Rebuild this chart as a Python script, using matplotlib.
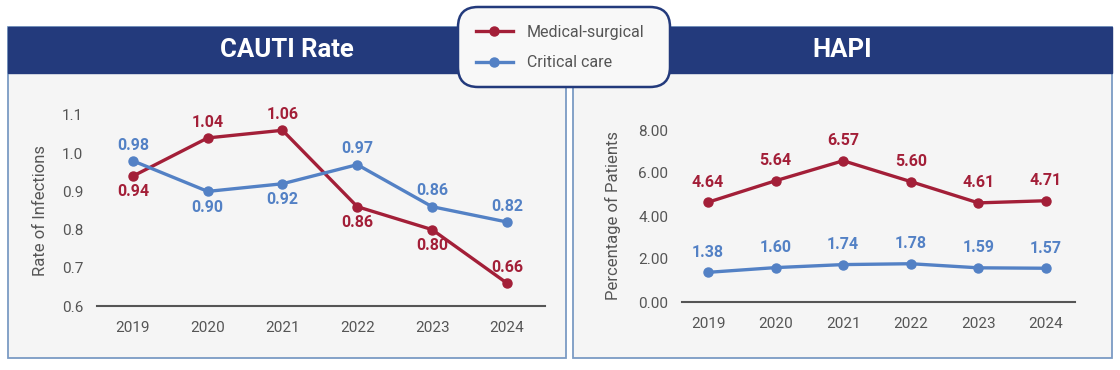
import matplotlib
matplotlib.use("Agg")
import matplotlib.pyplot as plt
from matplotlib.patches import Rectangle, FancyBboxPatch
from matplotlib.lines import Line2D

plt.rcParams['font.family'] = ['Roboto', 'DejaVu Sans']

years = [2019, 2020, 2021, 2022, 2023, 2024]
cauti_med = [0.94, 1.04, 1.06, 0.86, 0.80, 0.66]
cauti_crit = [0.98, 0.90, 0.92, 0.97, 0.86, 0.82]
hapi_med = [4.64, 5.64, 6.57, 5.60, 4.61, 4.71]
hapi_crit = [1.38, 1.60, 1.74, 1.78, 1.59, 1.57]
# label placement: 1 above the point, -1 below
cauti_med_pos = [-1, 1, 1, -1, -1, 1]
cauti_crit_pos = [1, -1, -1, 1, 1, 1]

RED = '#a31f38'
BLUE = '#5381c5'
NAVY = '#233a7c'
GRAY = '#555555'

W, H = 1120, 370
fig = plt.figure(figsize=(W / 100, H / 100), dpi=100)


def px(x0, y0, x1, y1):
    # pixel box (top-left origin) to figure fraction rect
    return [x0 / W, 1 - y1 / H, (x1 - x0) / W, (y1 - y0) / H]


# background layer in pixel coordinates
bg = fig.add_axes([0, 0, 1, 1], zorder=0)
bg.set_xlim(0, W)
bg.set_ylim(H, 0)
bg.axis('off')


def panel(x0, x1, title):
    bg.add_patch(Rectangle((x0, 27), x1 - x0, 331, facecolor='#f5f5f5',
                           edgecolor='#7b9bc4', lw=1.3))
    bg.add_patch(Rectangle((x0, 27), x1 - x0, 46, facecolor=NAVY, edgecolor=NAVY, lw=1))
    bg.text((x0 + x1) / 2, 50, title, color='white', fontsize=18.5,
            fontweight='bold', ha='center', va='center')


panel(8, 566, 'CAUTI Rate')
panel(573, 1112, 'HAPI')


def setup(ax, ylabel, lpad):
    ax.patch.set_alpha(0)
    for s in ['top', 'right', 'left']:
        ax.spines[s].set_visible(False)
    ax.spines['bottom'].set_color(GRAY)
    ax.spines['bottom'].set_linewidth(1.5)
    ax.tick_params(length=0, labelsize=11, labelcolor=GRAY)
    ax.tick_params(axis='x', pad=11)
    ax.tick_params(axis='y', pad=10)
    ax.set_xticks(years)
    ax.set_ylabel(ylabel, fontsize=12, color=GRAY, labelpad=lpad)


def series(ax, vals, color, pos, off):
    ax.plot(years, vals, color=color, lw=2.4, marker='o', ms=6.5, clip_on=False, zorder=3)
    for x, v, p in zip(years, vals, pos):
        ax.annotate(f'{v:.2f}', (x, v), xytext=(0, off * p), textcoords='offset points',
                    ha='center', va='bottom' if p > 0 else 'top', color=color,
                    fontsize=11.5, fontweight='bold', zorder=4)


ax1 = fig.add_axes(px(97, 115, 545, 306), zorder=2)
setup(ax1, 'Rate of Infections', 10)
ax1.set_xlim(2018.52, 2024.51)
ax1.set_ylim(0.6, 1.1)
ax1.set_yticks([0.6, 0.7, 0.8, 0.9, 1.0, 1.1])
ax1.set_yticklabels([f'{t:.1f}' for t in [0.6, 0.7, 0.8, 0.9, 1.0, 1.1]])
series(ax1, cauti_med, RED, cauti_med_pos, 6)
series(ax1, cauti_crit, BLUE, cauti_crit_pos, 6)

ax2 = fig.add_axes(px(682, 130, 1075, 302), zorder=2)
setup(ax2, 'Percentage of Patients', 12)
ax2.set_xlim(2018.615, 2024.43)
ax2.set_ylim(0, 8)
ax2.set_yticks([0, 2, 4, 6, 8])
ax2.set_yticklabels([f'{t:.2f}' for t in [0, 2, 4, 6, 8]])
series(ax2, hapi_med, RED, [1] * 6, 9)
series(ax2, hapi_crit, BLUE, [1] * 6, 9)

# legend box on top layer
top = fig.add_axes([0, 0, 1, 1], zorder=5)
top.set_xlim(0, W)
top.set_ylim(H, 0)
top.axis('off')
top.add_patch(FancyBboxPatch((458, 7), 212, 80, boxstyle='round,pad=0,rounding_size=20',
                             facecolor='#f8f8f8', edgecolor=NAVY, lw=1.8))
handles = [Line2D([], [], color=RED, lw=2.4, marker='o', ms=6.5),
           Line2D([], [], color=BLUE, lw=2.4, marker='o', ms=6.5)]
top.legend(handles, ['Medical-surgical', 'Critical care'], loc='center left',
           bbox_to_anchor=(468 / W, 1 - 47.5 / H), frameon=False, borderpad=0,
           fontsize=11.5, labelcolor=GRAY, handlelength=2.3, labelspacing=1.0,
           handletextpad=0.9)

fig.savefig('out.png', dpi=100)
